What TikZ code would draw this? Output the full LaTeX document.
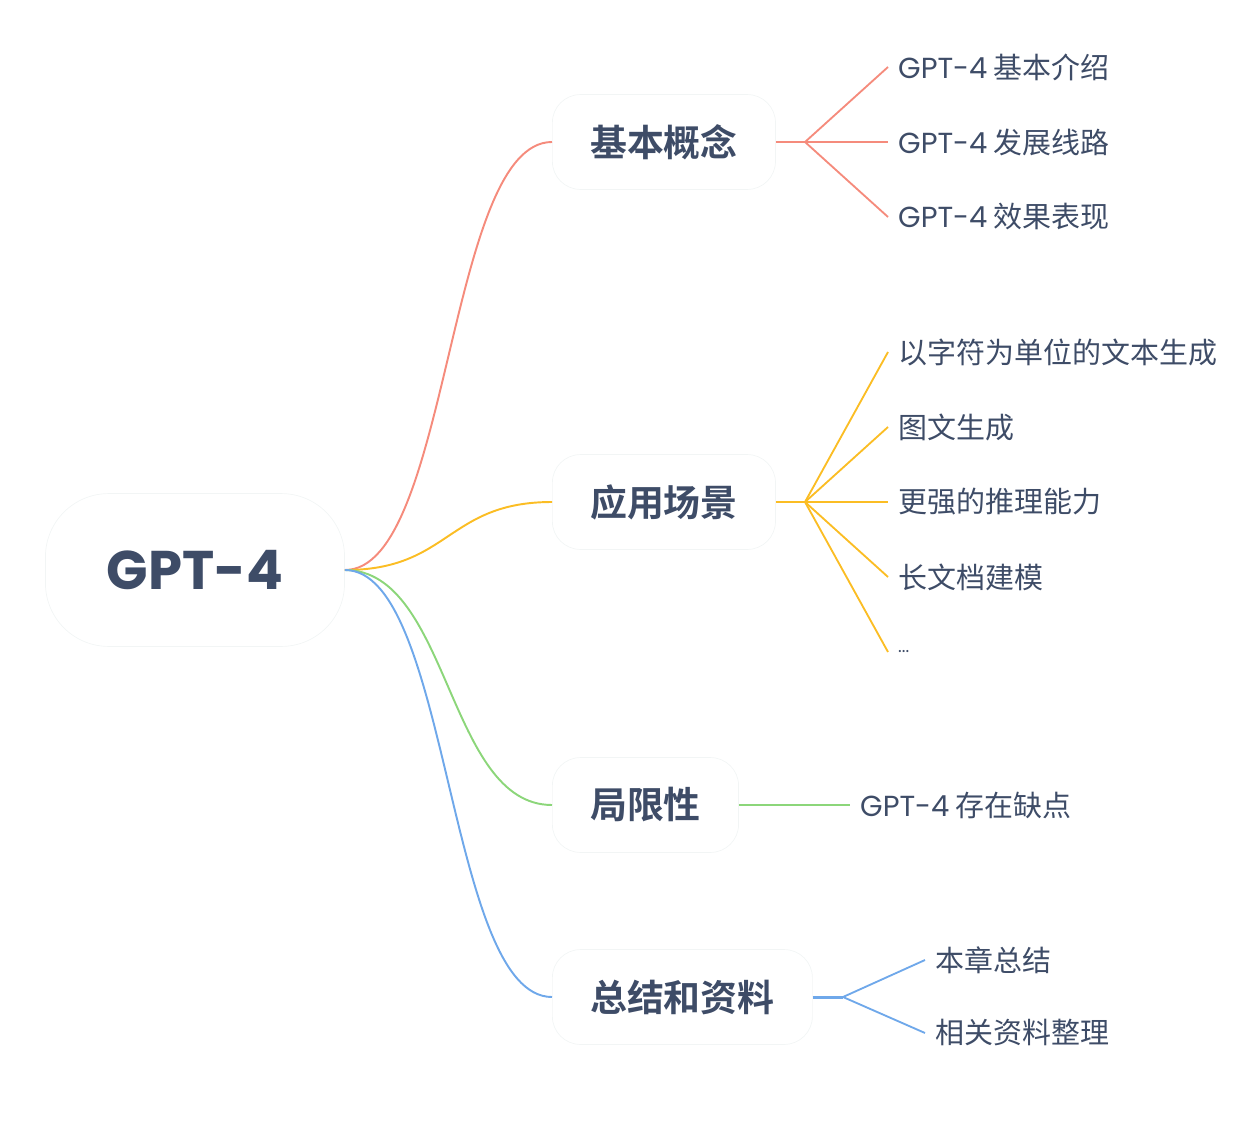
\documentclass[tikz,border=0pt]{standalone}
\usepackage{fontspec}
\setmainfont{Noto Sans CJK SC}[BoldFont={Noto Sans CJK SC Bold}]
\newfontfamily\latinfont{Poppins}
\definecolor{inkblue}{HTML}{3E4C67}
\definecolor{redline}{HTML}{F58B7C}
\definecolor{yellowline}{HTML}{FBBD24}
\definecolor{greenline}{HTML}{8CD67A}
\definecolor{blueline}{HTML}{6FA8EA}
\definecolor{boxedge}{HTML}{F2F5F5}
\newcommand{\gpt}{{\latinfont GPT-4}}
\tikzset{
  rootbox/.style={rectangle,rounded corners=36pt,draw=boxedge,minimum height=87pt,inner xsep=35pt,font=\latinfont\bfseries\fontsize{31}{36}\selectfont,text=inkblue},
  topicbox/.style={rectangle,rounded corners=16pt,draw=boxedge,minimum height=54pt,inner xsep=21.5pt,anchor=west,font=\bfseries\fontsize{21}{24}\selectfont,text=inkblue},
  leafbox/.style={anchor=west,inner xsep=5.6pt,font=\fontsize{16.5}{19}\selectfont,text=inkblue},
  curve/.style={line width=1.1pt},
  stem/.style={line width=1.7pt},
  twig/.style={line width=1.05pt}
}
\begin{document}
\begin{tikzpicture}[x=0.02cm,y=-0.02cm]
  \useasboundingbox (0,0) rectangle (1240,1125);

  \node[rootbox] (root) at (195,570) {GPT-4};

  \node[topicbox] (concept) at (552,142) {基本概念};
  \node[topicbox] (usage) at (552,502) {应用场景};
  \node[topicbox] (limit) at (552,805) {局限性};
  \node[topicbox] (summary) at (552,997) {总结和资料};

  \coordinate (conceptfork) at (805,142);
  \coordinate (usagefork) at (805,502);
  \coordinate (summaryfork) at (843,997);

  % leaves
  \node[leafbox] (intro) at (888,67) {\gpt\ 基本介绍};
  \node[leafbox] (history) at (888,142) {\gpt\ 发展线路};
  \node[leafbox] (perf) at (888,217) {\gpt\ 效果表现};

  \node[leafbox] (chargen) at (888,352) {以字符为单位的文本生成};
  \node[leafbox] (imgtext) at (888,427) {图文生成};
  \node[leafbox] (reason) at (888,502) {更强的推理能力};
  \node[leafbox] (longdoc) at (888,577) {长文档建模};
  \node[leafbox] (more) at (888,652) {\latinfont\fontsize{10}{12}\selectfont ...};

  \node[leafbox] (flaws) at (850,805) {\gpt\ 存在缺点};

  \node[leafbox] (chapter) at (925,960) {本章总结};
  \node[leafbox] (refs) at (925,1033) {相关资料整理};

  % root to topics
  \draw[curve,redline] (root.east) .. controls +(105,0) and +(-105,0) .. (concept.west);
  \draw[curve,yellowline] (root.east) .. controls +(105,0) and +(-105,0) .. (usage.west);
  \draw[curve,greenline] (root.east) .. controls +(105,0) and +(-105,0) .. (limit.west);
  \draw[curve,blueline] (root.east) .. controls +(105,0) and +(-105,0) .. (summary.west);

  % topics to leaves
  \draw[stem,redline] (concept.east) -- (conceptfork);
  \foreach \leaf in {intro,history,perf}
    \draw[twig,redline] (conceptfork) -- (\leaf.west);

  \draw[stem,yellowline] (usage.east) -- (usagefork);
  \foreach \leaf in {chargen,imgtext,reason,longdoc,more}
    \draw[twig,yellowline] (usagefork) -- (\leaf.west);

  \draw[twig,greenline] (limit.east) -- (flaws.west);

  \draw[stem,blueline] (summary.east) -- (summaryfork);
  \foreach \leaf in {chapter,refs}
    \draw[twig,blueline] (summaryfork) -- (\leaf.west);
\end{tikzpicture}
\end{document}
